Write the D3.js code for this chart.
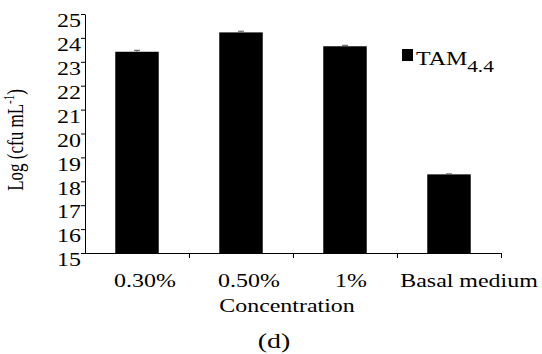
<!DOCTYPE html>
<html>
<head>
<meta charset="utf-8">
<script src="https://cdn.jsdelivr.net/npm/d3@7/dist/d3.min.js"></script>
<style>
  html, body { margin: 0; padding: 0; background: #fff; }
  svg { display: block; font-family: "Liberation Serif", "Times New Roman", serif; }
</style>
</head>
<body>
<svg id="chart" width="542" height="354"></svg>
<script>
// Bacterial counts (log cfu/mL) per substrate concentration
const categories = ["0.30%", "0.50%", "1%", "Basal medium"];
const values = [23.42, 24.23, 23.65, 18.29];
const errors = [0.06, 0.05, 0.04, 0.02];
const yTicks = [15, 16, 17, 18, 19, 20, 21, 22, 23, 24, 25];
const seriesName = "TAM";
const seriesSub = "4.4";

// Layout
const plotLeft = 85, plotRight = 501, plotTop = 14, plotBottom = 253;
const labelShift = [8, 8, 6, 20];
const sx = 1.33; // horizontal widening of the serif lettering

const svg = d3.select("#chart");

// Text widened horizontally around its anchor point
function wideText(parent, px, py, rot) {
  return parent.append("text")
    .attr("transform", `translate(${px},${py}) scale(${sx},1)` + (rot ? ` rotate(${rot})` : ""))
    .attr("fill", "#000");
}

const x = d3.scaleBand()
  .domain(categories)
  .range([plotLeft, plotRight])
  .paddingInner(0.582)
  .paddingOuter(0.291);

const y = d3.scaleLinear().domain([15, 25]).range([plotBottom, plotTop]);

// Bars
svg.append("g").selectAll("rect")
  .data(categories)
  .join("rect")
  .attr("x", (d) => x(d))
  .attr("width", x.bandwidth())
  .attr("y", (d, i) => y(values[i]))
  .attr("height", (d, i) => y(15) - y(values[i]))
  .attr("fill", "#000");

// Error bars (upper whisker visible above each bar)
const eb = svg.append("g").attr("stroke", "#555").attr("stroke-width", 1);
categories.forEach((c, i) => {
  const cx = x(c) + x.bandwidth() / 2;
  eb.append("line").attr("x1", cx).attr("x2", cx)
    .attr("y1", y(values[i])).attr("y2", y(values[i] + errors[i]));
  eb.append("line").attr("x1", cx - 3).attr("x2", cx + 3)
    .attr("y1", y(values[i] + errors[i])).attr("y2", y(values[i] + errors[i]));
});

// Y axis
const yAxis = svg.append("g")
  .attr("transform", `translate(${plotLeft},0)`)
  .call(d3.axisLeft(y).tickValues(yTicks).tickSize(4).tickPadding(1).tickSizeOuter(0));
yAxis.select(".domain").attr("stroke", "#000");
yAxis.selectAll(".tick line").attr("stroke", "#000");
yAxis.selectAll(".tick text")
  .attr("x", 0)
  .attr("transform", `translate(-4,0) scale(${sx},1)`)
  .attr("font-family", "Liberation Serif")
  .attr("font-size", 18)
  .attr("fill", "#000")
  .attr("dy", "0.71em");

// X axis: ticks at band boundaries
const xAxisG = svg.append("g");
xAxisG.append("line")
  .attr("x1", plotLeft).attr("x2", plotRight)
  .attr("y1", plotBottom + 0.5).attr("y2", plotBottom + 0.5)
  .attr("stroke", "#000");
categories.forEach((c) => {
  const bx = Math.round(x(c) - x.step() * x.paddingOuter() + x.step()) + 0.5;
  xAxisG.append("line")
    .attr("x1", bx).attr("x2", bx)
    .attr("y1", plotBottom).attr("y2", plotBottom + 5)
    .attr("stroke", "#000");
});
categories.forEach((c, i) => {
  wideText(xAxisG, x(c) + x.bandwidth() / 2 + labelShift[i], 287)
    .attr("text-anchor", "middle")
    .attr("font-size", 18)
    .text(c);
});

// Axis titles
wideText(svg, 287, 312)
  .attr("text-anchor", "middle")
  .attr("font-size", 18)
  .text("Concentration");

wideText(svg, 274, 348)
  .attr("text-anchor", "middle")
  .attr("font-size", 21)
  .text("(d)");

const yl = wideText(svg, 23, 140, -90)
  .attr("text-anchor", "middle")
  .attr("font-size", 17);
yl.append("tspan").text("Log (cfu mL");
yl.append("tspan").attr("font-size", 11).attr("dy", -7).text("-1");
yl.append("tspan").attr("dy", 7).text(")");

// Legend
const lg = svg.append("g");
lg.append("rect").attr("x", 402).attr("y", 49).attr("width", 11).attr("height", 12).attr("fill", "#000");
const lt = wideText(lg, 416, 65).attr("font-size", 18);
lt.append("tspan").text(seriesName);
lt.append("tspan").attr("dy", 7).attr("font-size", 16).text(seriesSub);
</script>
</body>
</html>
